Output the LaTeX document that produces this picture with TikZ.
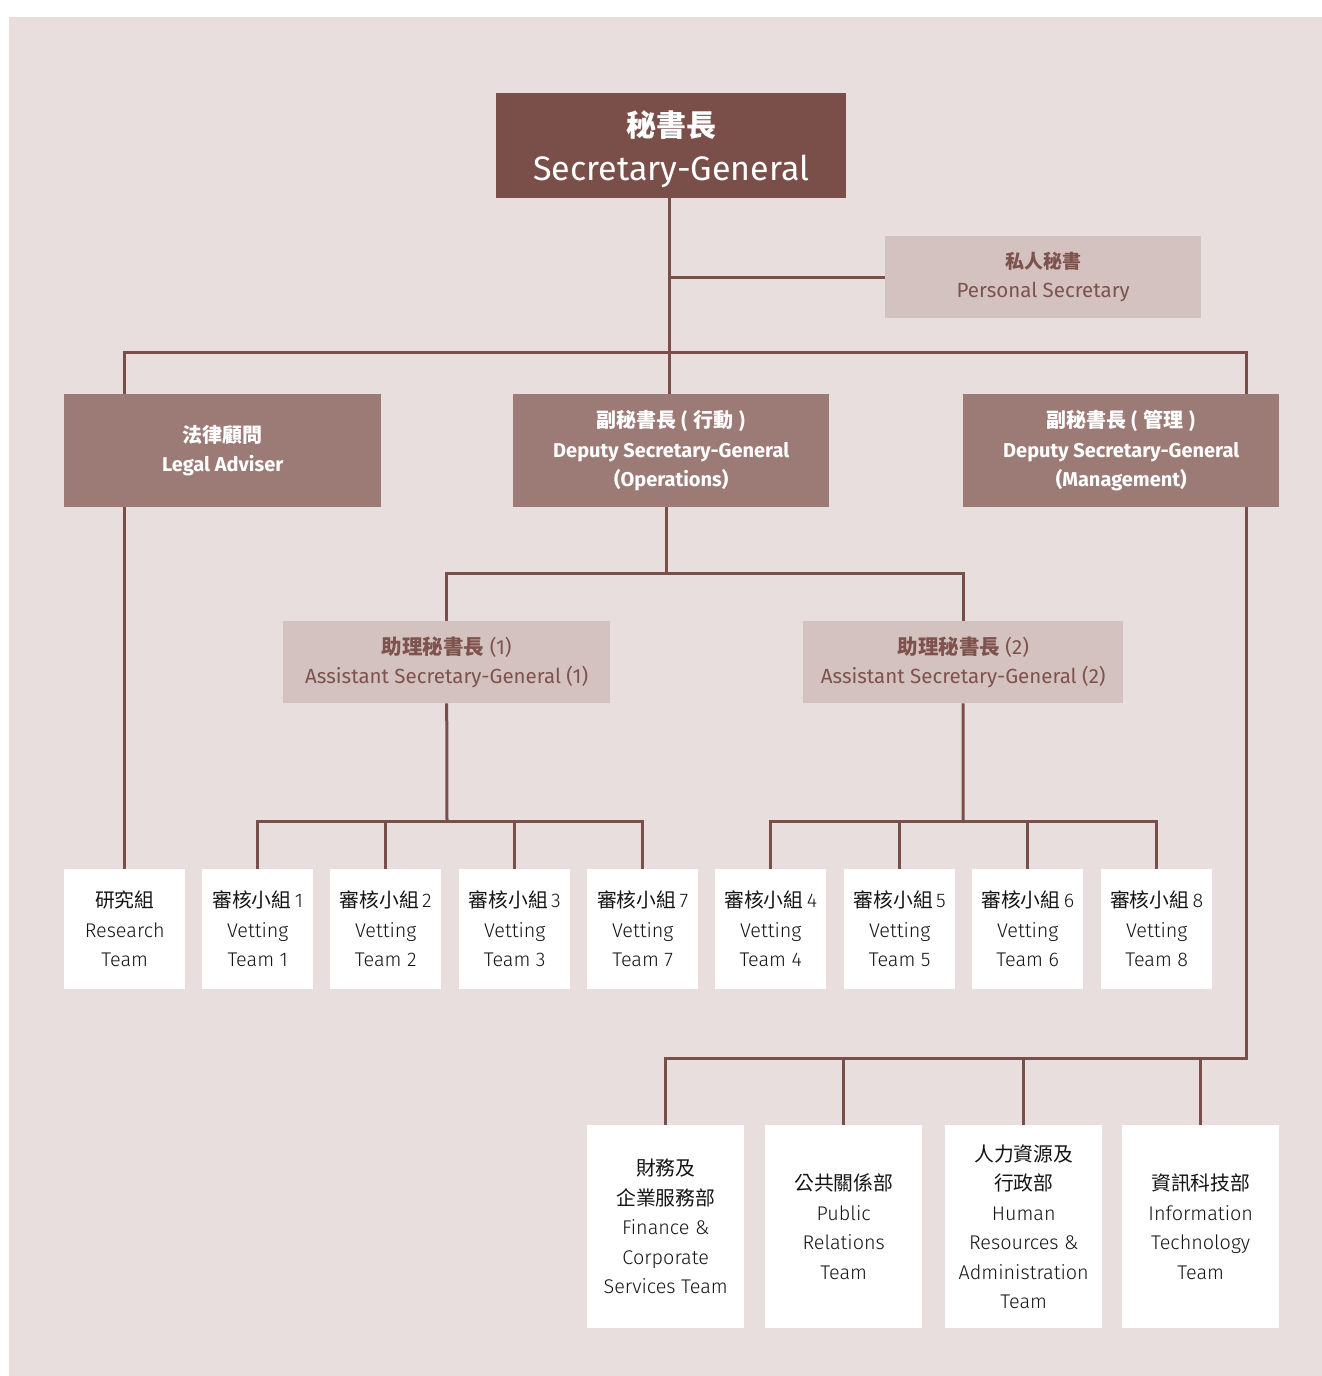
\documentclass[tikz,border=0pt]{standalone}
\usepackage{fontspec}
\setmainfont{Fira Sans}
\newfontfamily\lightfont{Fira Sans Light}
\newfontfamily\cjk{Noto Sans CJK TC}
\definecolor{bgc}{HTML}{E8DEDD}
\definecolor{darkc}{HTML}{7A4F4A}
\definecolor{midc}{HTML}{9C7B76}
\definecolor{lightc}{HTML}{D3C2BF}
\definecolor{ltext}{HTML}{7E524D}
\definecolor{wtext}{HTML}{141414}
\begin{document}
\begin{tikzpicture}[x=1pt,y=-1pt,
  box/.style={anchor=north west, inner sep=0pt, align=center},
  topbox/.style={box, fill=darkc, text=white},
  midbox/.style={box, fill=midc, text=white, font=\fontsize{20}{29.5}\selectfont\bfseries},
  lightbox/.style={box, fill=lightc, text=ltext, font=\fontsize{20.5}{29.5}\selectfont},
  teambox/.style={box, fill=white, text=wtext, font=\lightfont\fontsize{19.8}{29.5}\selectfont, minimum width=111pt, minimum height=120pt},
  deptbox/.style={box, fill=white, text=wtext, font=\lightfont\fontsize{19.8}{29.5}\selectfont, minimum width=157pt, minimum height=203pt},
  conn/.style={draw=darkc, line width=3pt}]
\useasboundingbox (0,0) rectangle (1322,1376);
\fill[bgc] (9,17) rectangle (1322,1376);

% top
\node[topbox, minimum width=350pt, minimum height=105pt] (sg) at (496,93)
  {{\cjk\bfseries\fontsize{30}{30}\selectfont\rule{0pt}{33pt}秘書長}\\[14pt]{\fontsize{34}{38}\selectfont Secretary-General}};
\node[lightbox, minimum width=316pt, minimum height=82pt] (ps) at (885,236)
  {{\cjk\bfseries\fontsize{19}{29.5}\selectfont 私人秘書}\\Personal Secretary};

% second level
\node[midbox, minimum width=317pt, minimum height=113pt] (la) at (64,394)
  {{\cjk 法律顧問}\\Legal Adviser};
\node[midbox, minimum width=316pt, minimum height=113pt] (dsgo) at (513,394)
  {{\cjk 副秘書長 ( 行動 )}\\Deputy Secretary-General\\(Operations)};
\node[midbox, minimum width=316pt, minimum height=113pt] (dsgm) at (963,394)
  {{\cjk 副秘書長 ( 管理 )}\\Deputy Secretary-General\\(Management)};

% assistant
\node[lightbox, minimum width=327pt, minimum height=82pt] (asg1) at (283,621)
  {{\cjk\bfseries 助理秘書長} (1)\\Assistant Secretary-General (1)};
\node[lightbox, minimum width=320pt, minimum height=82pt] (asg2) at (803,621)
  {{\cjk\bfseries 助理秘書長} (2)\\Assistant Secretary-General (2)};

% teams
\node[teambox, minimum width=121pt] (rt) at (64,869) {{\cjk 研究組}\\Research\\Team};
\node[teambox] (vt1) at (202,869) {{\cjk 審核小組}\,1\\Vetting\\Team 1};
\node[teambox] (vt2) at (330,869) {{\cjk 審核小組}\,2\\Vetting\\Team 2};
\node[teambox] (vt3) at (459,869) {{\cjk 審核小組}\,3\\Vetting\\Team 3};
\node[teambox] (vt7) at (587,869) {{\cjk 審核小組}\,7\\Vetting\\Team 7};
\node[teambox] (vt4) at (715,869) {{\cjk 審核小組}\,4\\Vetting\\Team 4};
\node[teambox] (vt5) at (844,869) {{\cjk 審核小組}\,5\\Vetting\\Team 5};
\node[teambox] (vt6) at (972,869) {{\cjk 審核小組}\,6\\Vetting\\Team 6};
\node[teambox] (vt8) at (1101,869) {{\cjk 審核小組}\,8\\Vetting\\Team 8};

% departments
\node[deptbox] (fin) at (587,1125) {{\cjk 財務及}\\{\cjk 企業服務部}\\Finance \&\\Corporate\\Services Team};
\node[deptbox] (pr) at (765,1125) {{\cjk 公共關係部}\\Public\\Relations\\Team};
\node[deptbox] (hr) at (945,1125) {{\cjk 人力資源及}\\{\cjk 行政部}\\Human\\Resources \&\\Administration\\Team};
\node[deptbox] (it) at (1122,1125) {{\cjk 資訊科技部}\\Information\\Technology\\Team};

% junction coordinates
\coordinate (busA) at (669,352);
\coordinate (busR) at (1246,352);
\coordinate (busB) at (666,573);
\coordinate (busC) at (447,821);
\coordinate (busD) at (963,821);
\coordinate (busE) at (1246,1058);

% connectors
\draw[conn] (sg.south -| busA) -- (dsgo.north -| busA);
\draw[conn] (ps.west -| busA) -- (ps.west);
\draw[conn] (rt.north |- la.north) |- (busR) -- (busR |- dsgm.north);
\draw[conn] (rt.north |- la.south) -- (rt.north);
\draw[conn] (dsgo.south -| busB) -- (busB);
\draw[conn] (asg1.north) |- (busB) -| (asg2.north);
\draw[conn] (asg1.south) -- (busC);
\draw[conn] (vt1.north) |- (busC) -| (vt7.north);
\draw[conn] (vt2.north) -- (vt2.north |- busC);
\draw[conn] (vt3.north) -- (vt3.north |- busC);
\draw[conn] (asg2.south) -- (busD);
\draw[conn] (vt4.north) |- (busD) -| (vt8.north);
\draw[conn] (vt5.north) -- (vt5.north |- busD);
\draw[conn] (vt6.north) -- (vt6.north |- busD);
\draw[conn] (dsgm.south -| busE) -- (busE) -| (fin.north);
\draw[conn] (pr.north) -- (pr.north |- busE);
\draw[conn] (hr.north) -- (hr.north |- busE);
\draw[conn] (it.north) -- (it.north |- busE);
\end{tikzpicture}
\end{document}
